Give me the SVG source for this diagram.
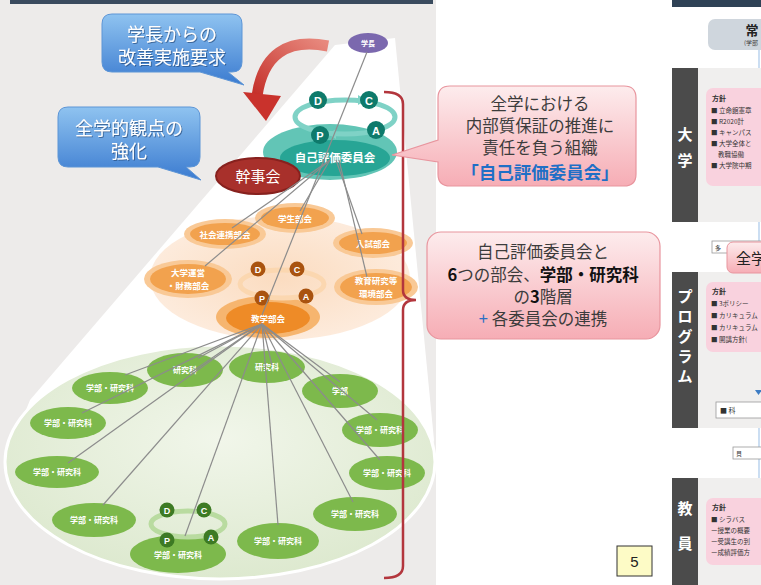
<svg xmlns="http://www.w3.org/2000/svg" width="761" height="585" viewBox="0 0 761 585">
<defs>
<linearGradient id="gBlue" x1="0" y1="0" x2="0" y2="1"><stop offset="0" stop-color="#8fc3f0"/><stop offset="1" stop-color="#3b7bd0"/></linearGradient>
<linearGradient id="gPink" x1="0" y1="0" x2="0" y2="1"><stop offset="0" stop-color="#fdeced"/><stop offset="1" stop-color="#f6adb5"/></linearGradient>
<linearGradient id="gRed" x1="1" y1="0" x2="0" y2="1"><stop offset="0" stop-color="#e8897e"/><stop offset="1" stop-color="#c4302a"/></linearGradient>
<radialGradient id="gGreenBg" cx="0.5" cy="0.4" r="0.6"><stop offset="0" stop-color="#f1f6ea"/><stop offset="1" stop-color="#dde9cf"/></radialGradient>
<radialGradient id="gOrangeBg" cx="0.5" cy="0.5" r="0.5"><stop offset="0" stop-color="#fbdcc0"/><stop offset="1" stop-color="#fdebdc"/></radialGradient>
<filter id="shadow" x="-10%" y="-10%" width="120%" height="130%"><feDropShadow dx="1" dy="1" stdDeviation="0.6" flood-color="#1f3f6e" flood-opacity="0.6"/></filter>
</defs>
<style>
.jp{font-family:"Noto Sans CJK JP","Noto Sans",sans-serif}
.conn{stroke:#8c8c8c;stroke-width:1.2;fill:none}
.gn{fill:#7db94c}
.gt{fill:#fff;font-size:8px;font-weight:bold;text-anchor:middle}
.oo{fill:#f9c996}
.oi{fill:#f2a24e}
.ot{fill:#fff;font-size:8.5px;font-weight:bold;text-anchor:middle}
.pd{font-family:"Liberation Sans",Arial,sans-serif;font-weight:bold;fill:#fff;text-anchor:middle}
.bt{fill:#fff;font-size:18px;text-anchor:middle;filter:url(#shadow)}
.pt{fill:#3c3c3c;font-size:16.5px;text-anchor:middle}
.rt{fill:#333;font-size:6.5px}
.bar{fill:#4b4b4b}
.bart{fill:#fff;font-size:15px;font-weight:bold;text-anchor:middle}
.lp{fill:#f0efee}
.pk{fill:#f9d2de}
</style>

<!-- backgrounds -->
<rect x="0" y="0" width="761" height="585" fill="#ffffff"/>
<rect x="0" y="0" width="436" height="585" fill="#edebea"/>
<rect x="10" y="0" width="423" height="4" fill="#3a4b5e"/>

<!-- spotlight beam -->
<path d="M335,45 L395,38 L434,440 L430,462 L5,462 L30,400 Z" fill="#ffffff"/>
<ellipse cx="220" cy="462" rx="215" ry="117" fill="url(#gGreenBg)" stroke="#ffffff" stroke-width="3"/>
<ellipse cx="280" cy="278" rx="130" ry="62" fill="url(#gOrangeBg)"/>

<!-- red curved arrow -->
<g id="arrow-request">
<path d="M328,46 Q266,34 257,96" fill="none" stroke="url(#gRed)" stroke-width="11" stroke-linecap="butt"/>
<polygon points="243,92 281,96 266,121" fill="#c9322c"/>
</g>

<!-- blue callouts -->
<g id="callout-president">
<path d="M112,14 H232 Q242,14 242,24 V62 Q242,72 232,72 H228 L244,85 L200,72 H112 Q102,72 102,62 V24 Q102,14 112,14 Z" fill="url(#gBlue)" stroke="#5d95d6" stroke-width="1"/>
<text class="jp bt" x="172" y="41">学長からの</text>
<text class="jp bt" x="172" y="64">改善実施要求</text>
</g>
<g id="callout-viewpoint">
<path d="M68,107 H190 Q200,107 200,117 V157 Q200,167 190,167 H186 L201,180 L158,167 H68 Q58,167 58,157 V117 Q58,107 68,107 Z" fill="url(#gBlue)" stroke="#5d95d6" stroke-width="1"/>
<text class="jp bt" x="129" y="135">全学的観点の</text>
<text class="jp bt" x="129" y="158">強化</text>
</g>

<!-- president -->
<g id="node-president">
<ellipse cx="368" cy="43" rx="20" ry="10" fill="#7b68ae"/>
<text class="jp" x="368" y="46" font-size="7" font-weight="bold" fill="#fff" text-anchor="middle">学長</text>
</g>

<!-- self evaluation committee -->
<g id="node-self-eval">
<ellipse cx="330" cy="152" rx="67" ry="28" fill="#62c5b6"/>
<ellipse cx="335" cy="158" rx="55" ry="18" fill="#27a595"/>
<text class="jp" x="335" y="162" font-size="11.5" font-weight="bold" fill="#fff" text-anchor="middle">自己評価委員会</text>
</g>
<g id="pdca-self-eval">
<ellipse cx="345" cy="117" rx="50" ry="17" fill="none" stroke="#7fd2c6" stroke-width="5"/>
<polygon points="358,95 366,100 358,105" fill="#7fd2c6"/>
<polygon points="336,129 328,134 336,139" fill="#7fd2c6"/>
<circle cx="318" cy="100" r="9" fill="#0e7a6b"/><text class="pd" x="318" y="104.5" font-size="11">D</text>
<circle cx="369" cy="100" r="9" fill="#0e7a6b"/><text class="pd" x="369" y="104.5" font-size="11">C</text>
<circle cx="320" cy="135" r="9" fill="#0e7a6b"/><text class="pd" x="320" y="139.5" font-size="11">P</text>
<circle cx="376" cy="130" r="9" fill="#0e7a6b"/><text class="pd" x="376" y="134.5" font-size="11">A</text>
</g>

<!-- steering committee -->
<g id="node-kanjikai">
<ellipse cx="258" cy="176" rx="42" ry="18" fill="#a8302b" stroke="#87211e" stroke-width="2"/>
<text class="jp" x="258" y="181.5" font-size="15" fill="#fff" text-anchor="middle">幹事会</text>
</g>

<!-- orange sub-committees -->
<g id="node-gakusei"><ellipse class="oo" cx="295" cy="218" rx="40" ry="15"/><ellipse class="oi" cx="295" cy="218" rx="34" ry="11"/><text class="jp ot" x="295" y="221.5">学生部会</text></g>
<g id="node-shakai"><ellipse class="oo" cx="225" cy="234" rx="41" ry="15"/><ellipse class="oi" cx="225" cy="234" rx="35" ry="11"/><text class="jp ot" x="225" y="237.5">社会連携部会</text></g>
<g id="node-nyushi"><ellipse class="oo" cx="373" cy="243" rx="40" ry="15"/><ellipse class="oi" cx="373" cy="243" rx="34" ry="11"/><text class="jp ot" x="373" y="246.5">入試部会</text></g>
<g id="node-unei"><ellipse class="oo" cx="188" cy="279" rx="44" ry="19"/><ellipse class="oi" cx="188" cy="279" rx="38" ry="15"/><text class="jp ot" x="188" y="276">大学運営</text><text class="jp ot" x="188" y="288.5">・財務部会</text></g>
<g id="node-kankyo"><ellipse class="oo" cx="376" cy="287" rx="42" ry="18"/><ellipse class="oi" cx="376" cy="287" rx="36" ry="14"/><text class="jp ot" x="376" y="284">教育研究等</text><text class="jp ot" x="376" y="296.5">環境部会</text></g>
<g id="node-kyogaku"><ellipse cx="268" cy="317" rx="52" ry="21" fill="#f6b56f"/><ellipse cx="268" cy="318" rx="42" ry="16" fill="#ee8b27"/><text class="jp ot" x="268" y="322" font-size="10">教学部会</text></g>
<g id="pdca-kyogaku">
<ellipse cx="282" cy="284" rx="42" ry="14" fill="none" stroke="#fbd7b0" stroke-width="5"/>
<circle cx="258" cy="269" r="7.5" fill="#a9530f"/><text class="pd" x="258" y="272.5" font-size="9">D</text>
<circle cx="297" cy="269" r="7.5" fill="#a9530f"/><text class="pd" x="297" y="272.5" font-size="9">C</text>
<circle cx="262" cy="298" r="7.5" fill="#a9530f"/><text class="pd" x="262" y="301.5" font-size="9">P</text>
<circle cx="306" cy="296" r="7.5" fill="#a9530f"/><text class="pd" x="306" y="299.5" font-size="9">A</text>
</g>

<!-- green faculties -->
<g id="node-g1"><ellipse class="gn" cx="185" cy="370" rx="38" ry="17"/><text class="jp gt" x="185" y="373">研究科</text></g>
<g id="node-g2"><ellipse class="gn" cx="267" cy="367" rx="38" ry="16"/><text class="jp gt" x="267" y="370">研究科</text></g>
<g id="node-g3"><ellipse class="gn" cx="110" cy="388" rx="38" ry="16"/><text class="jp gt" x="110" y="391">学部・研究科</text></g>
<g id="node-g4"><ellipse class="gn" cx="340" cy="391" rx="38" ry="17"/><text class="jp gt" x="340" y="394">学部</text></g>
<g id="node-g5"><ellipse class="gn" cx="68" cy="423" rx="38" ry="16"/><text class="jp gt" x="68" y="426">学部・研究科</text></g>
<g id="node-g6"><ellipse class="gn" cx="380" cy="430" rx="38" ry="17"/><text class="jp gt" x="380" y="433">学部・研究科</text></g>
<g id="node-g7"><ellipse class="gn" cx="57" cy="472" rx="42" ry="16"/><text class="jp gt" x="57" y="475">学部・研究科</text></g>
<g id="node-g8"><ellipse class="gn" cx="387" cy="473" rx="38" ry="17"/><text class="jp gt" x="387" y="476">学部・研究科</text></g>
<g id="node-g9"><ellipse class="gn" cx="94" cy="520" rx="42" ry="17"/><text class="jp gt" x="94" y="523">学部・研究科</text></g>
<g id="node-g10"><ellipse class="gn" cx="355" cy="514" rx="42" ry="17"/><text class="jp gt" x="355" y="517">学部・研究科</text></g>
<g id="node-g11"><ellipse class="gn" cx="278" cy="541" rx="41" ry="18"/><text class="jp gt" x="278" y="544">学部・研究科</text></g>
<g id="node-g12"><ellipse class="gn" cx="178" cy="554" rx="48" ry="19"/><text class="jp gt" x="178" y="558">学部・研究科</text></g>
<g id="pdca-faculty">
<ellipse cx="188" cy="524" rx="37" ry="13" fill="none" stroke="#b9dba0" stroke-width="5"/>
<circle cx="167" cy="510" r="7.5" fill="#3d7a24"/><text class="pd" x="167" y="513.5" font-size="9">D</text>
<circle cx="204" cy="510" r="7.5" fill="#3d7a24"/><text class="pd" x="204" y="513.5" font-size="9">C</text>
<circle cx="167" cy="540" r="7.5" fill="#3d7a24"/><text class="pd" x="167" y="543.5" font-size="9">P</text>
<circle cx="211" cy="537" r="7.5" fill="#3d7a24"/><text class="pd" x="211" y="540.5" font-size="9">A</text>
</g>

<!-- connectors -->
<g id="connectors" class="conn">
<line x1="367" y1="52" x2="262" y2="315"/>
<line x1="330" y1="160" x2="232" y2="228"/>
<line x1="330" y1="160" x2="205" y2="266"/>
<line x1="330" y1="160" x2="300" y2="211"/>
<line x1="336" y1="160" x2="362" y2="234"/>
<line x1="339" y1="160" x2="367" y2="277"/>
<line x1="262" y1="324" x2="125" y2="375"/>
<line x1="262" y1="324" x2="82" y2="413"/>
<line x1="262" y1="324" x2="68" y2="463"/>
<line x1="262" y1="324" x2="103" y2="505"/>
<line x1="262" y1="324" x2="185" y2="536"/>
<line x1="262" y1="324" x2="198" y2="358"/>
<line x1="262" y1="324" x2="190" y2="373"/>
<line x1="262" y1="324" x2="272" y2="365"/>
<line x1="262" y1="324" x2="278" y2="525"/>
<line x1="262" y1="324" x2="353" y2="502"/>
<line x1="262" y1="324" x2="380" y2="460"/>
<line x1="262" y1="324" x2="377" y2="420"/>
<line x1="262" y1="324" x2="340" y2="382"/>
</g>

<!-- red brace -->
<path id="brace" d="M384,92 Q403,92 403,104 L403,290 Q403,300 416,300 Q403,300 403,310 L403,566 Q403,578 384,578" fill="none" stroke="#b3363d" stroke-width="2.5"/>

<!-- pink callouts -->
<g id="callout-committee">
<path d="M450,86 H624 Q636,86 636,98 V174 Q636,186 624,186 H450 Q438,186 438,174 V162 L392,155 L438,140 V98 Q438,86 450,86 Z" fill="url(#gPink)" stroke="#e8959e" stroke-width="1.2"/>
<text class="jp pt" x="540" y="110">全学における</text>
<text class="jp pt" x="540" y="132">内部質保証の推進に</text>
<text class="jp pt" x="540" y="154">責任を負う組織</text>
<text class="jp" x="540" y="179" font-size="17.5" font-weight="bold" fill="#1f6fc6" text-anchor="middle">「自己評価委員会」</text>
</g>
<g id="callout-layers">
<rect x="427" y="232" width="233" height="107" rx="14" fill="url(#gPink)" stroke="#e8959e" stroke-width="1.2"/>
<text class="jp pt" x="543" y="258">自己評価委員会と</text>
<text class="jp pt" x="543" y="281"><tspan font-weight="bold" fill="#111">6</tspan>つの部会、<tspan font-weight="bold" fill="#111">学部・研究科</tspan></text>
<text class="jp pt" x="543" y="303">の<tspan font-weight="bold" fill="#111">3</tspan>階層</text>
<text class="jp pt" x="543" y="325"><tspan fill="#2b6fc4">+</tspan> 各委員会の連携</text>
</g>

<!-- page number -->
<g id="page-number">
<rect x="617" y="546" width="35" height="30" fill="#fdfbc6" stroke="#333" stroke-width="1"/>
<text x="634.5" y="567" font-family="Liberation Sans, Arial, sans-serif" font-size="15" fill="#222" text-anchor="middle">5</text>
</g>

<!-- right slide fragment -->
<g id="right-panel">
<rect x="672" y="0" width="89" height="7" fill="#2f4256"/>
<rect x="708" y="19" width="70" height="31" rx="7" fill="#cfd6dd"/>
<text class="jp" x="752" y="35" font-size="13" font-weight="bold" fill="#222" text-anchor="middle">常</text>
<text class="jp" x="744" y="45" font-size="6" fill="#444">(学部</text>
<line x1="759" y1="50" x2="759" y2="585" stroke="#a9c8ea" stroke-width="1.2"/>
<polygon points="755,74 763,74 759,80" fill="#3d7dc4"/>

<rect class="lp" x="698" y="68" width="63" height="154"/>
<rect class="bar" x="672" y="68" width="26" height="154"/>
<text class="jp bart" x="685" y="140">大</text>
<text class="jp bart" x="685" y="166">学</text>
<rect class="pk" x="706" y="88" width="70" height="98" rx="7"/>
<text class="jp" x="712" y="101" font-size="7" font-weight="bold" fill="#333">方針</text>
<text class="jp rt" x="711" y="113">■ 立命館憲章</text>
<text class="jp rt" x="711" y="124">■ R2020計</text>
<text class="jp rt" x="711" y="135">■ キャンパス</text>
<text class="jp rt" x="711" y="146">■ 大学全体と</text>
<text class="jp rt" x="718" y="157">教職協働</text>
<text class="jp rt" x="711" y="168">■ 大学院中期</text>

<rect x="712" y="241" width="60" height="12" fill="#fff" stroke="#999" stroke-width="0.8"/>
<text class="jp" x="715" y="250" font-size="6" fill="#333">多</text>

<rect class="lp" x="698" y="272" width="63" height="156"/>
<rect class="bar" x="672" y="272" width="26" height="156"/>
<text class="jp bart" x="685" y="302">プ</text>
<text class="jp bart" x="685" y="322">ロ</text>
<text class="jp bart" x="685" y="342">グ</text>
<text class="jp bart" x="685" y="362">ラ</text>
<text class="jp bart" x="685" y="382">ム</text>
<rect class="pk" x="706" y="282" width="70" height="70" rx="7"/>
<text class="jp" x="712" y="294" font-size="7" font-weight="bold" fill="#333">方針</text>
<text class="jp rt" x="711" y="306">■ 3ポリシー</text>
<text class="jp rt" x="711" y="318">■ カリキュラム</text>
<text class="jp rt" x="711" y="330">■ カリキュラム</text>
<text class="jp rt" x="711" y="342">■ 開講方針(</text>
<polygon points="755,390 762,390 758.5,395" fill="#3d7dc4"/>
<rect x="716" y="402" width="60" height="16" fill="#fff" stroke="#999" stroke-width="0.8"/>
<text class="jp" x="720" y="413" font-size="7" fill="#333">■ 科</text>

<rect x="733" y="447" width="40" height="12" fill="#fff" stroke="#999" stroke-width="0.8"/>
<text class="jp" x="736" y="456" font-size="6" fill="#333">貝</text>

<rect class="lp" x="698" y="478" width="63" height="107"/>
<rect class="bar" x="672" y="478" width="26" height="107"/>
<text class="jp bart" x="685" y="514">教</text>
<text class="jp bart" x="685" y="549">員</text>
<rect class="pk" x="706" y="498" width="70" height="67" rx="7"/>
<text class="jp" x="712" y="510" font-size="7" font-weight="bold" fill="#333">方針</text>
<text class="jp rt" x="711" y="522">■ シラバス</text>
<text class="jp rt" x="711" y="533">ー授業の概要</text>
<text class="jp rt" x="711" y="544">ー受講生の到</text>
<text class="jp rt" x="711" y="555">ー成績評価方</text>

<rect x="727" y="242" width="50" height="31" rx="6" fill="url(#gPink)" stroke="#e8959e" stroke-width="1"/>
<text class="jp" x="736" y="264" font-size="15" fill="#222">全学</text>
</g>
</svg>
